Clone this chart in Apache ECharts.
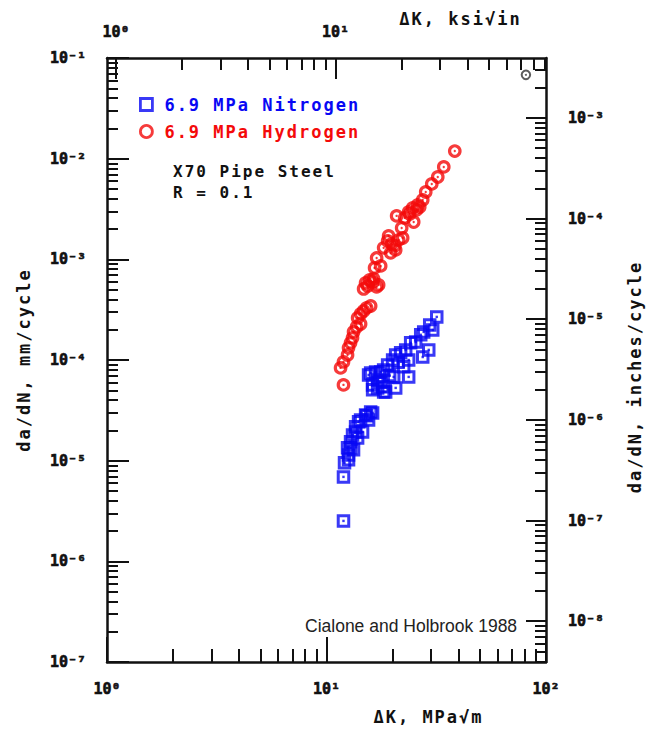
<!DOCTYPE html>
<html>
<head>
<meta charset="utf-8">
<script src="https://cdn.jsdelivr.net/npm/echarts@6/dist/echarts.min.js"></script>
<style>
  html, body { margin: 0; padding: 0; background: #ffffff; }
  #chart { width: 654px; height: 732px; }
  /* plotter-style lettering: wide spacing for the monospaced captions */
  #chart text[style*="17px"], #chart text[style*="16px"] { letter-spacing: 2px; }
</style>
</head>
<body>
<div id="chart"></div>
<script>
// Fatigue crack growth of X70 pipe steel, R = 0.1
// ΔK in MPa√m, da/dN in mm/cycle

const nitrogenName = '6.9 MPa Nitrogen';
const hydrogenName = '6.9 MPa Hydrogen';

const nitrogenDK = [
  11.95, 11.95, 12.08, 12.60, 12.47, 12.87, 13.14, 13.57, 14.00, 15.07, 15.89, 15.55,
  14.60, 13.86, 13.28, 16.22, 14.30, 15.23, 13.57, 12.87, 12.60,
  15.89, 15.55, 17.10, 16.22, 17.10, 18.02, 18.21, 16.22, 20.66, 18.60, 17.65, 18.21,
  18.99, 20.01, 20.23, 20.66, 21.77, 22.47, 22.95, 23.68, 23.68, 24.18, 25.49, 27.44,
  29.23, 26.87, 27.72, 30.48, 29.53, 31.79, 16.74, 19.40, 21.20, 17.60
];
const nitrogenRate = [
  2.52e-6, 6.90e-6, 9.51e-6, 1.14e-5, 1.34e-5, 1.54e-5, 1.80e-5, 2.17e-5, 2.43e-5, 2.85e-5, 3.05e-5, 2.54e-5,
  1.93e-5, 1.68e-5, 1.28e-5, 2.98e-5, 2.54e-5, 2.79e-5, 1.93e-5, 1.34e-5, 1.02e-5,
  7.44e-5, 7.11e-5, 6.34e-5, 5.66e-5, 5.28e-5, 5.41e-5, 4.82e-5, 5.05e-5, 5.28e-5, 4.82e-5, 7.61e-5, 7.97e-5,
  8.94e-5, 1.00e-4, 6.79e-5, 1.12e-4, 1.18e-4, 8.55e-5, 1.26e-4, 1.00e-4, 6.79e-5, 1.48e-4, 1.51e-4, 1.07e-4,
  1.26e-4, 1.78e-4, 1.90e-4, 1.99e-4, 2.23e-4, 2.68e-4, 7.61e-5, 7.00e-5, 9.50e-5, 6.00e-5
];

const hydrogenDK = [
  11.95, 11.59, 11.95, 12.47, 12.60, 12.87, 13.14, 13.28, 13.71, 14.30, 13.86, 14.30,
  14.76, 15.23, 15.89, 14.76, 15.39, 16.22, 15.07, 16.39, 17.28, 15.72, 16.92,
  16.56, 17.65, 16.92, 18.21, 18.99, 19.81, 19.60, 20.66, 21.32, 22.23, 19.19, 20.44,
  20.87, 22.00, 22.71, 23.68, 24.96, 24.70, 23.93, 25.76, 26.59, 26.03, 27.44, 28.32,
  30.17, 32.13, 34.22, 38.41
];
const hydrogenRate = [
  5.66e-5, 8.35e-5, 9.58e-5, 1.12e-4, 1.32e-4, 1.48e-4, 1.66e-4, 1.90e-4, 2.13e-4, 2.28e-4, 2.62e-4, 2.87e-4,
  3.07e-4, 3.29e-4, 3.44e-4, 5.08e-4, 5.44e-4, 5.97e-4, 5.83e-4, 6.39e-4, 5.57e-4, 6.24e-4, 5.32e-4,
  8.22e-4, 8.60e-4, 1.03e-3, 1.30e-3, 1.52e-3, 1.42e-3, 1.16e-3, 1.24e-3, 1.56e-3, 1.63e-3, 1.71e-3, 1.36e-3,
  2.70e-3, 2.05e-3, 2.58e-3, 2.96e-3, 2.35e-3, 3.24e-3, 2.82e-3, 3.10e-3, 3.31e-3, 3.47e-3, 3.89e-3, 4.67e-3,
  5.61e-3, 6.58e-3, 8.28e-3, 1.19e-2
];

// lone dark circle in the upper right corner of the frame
const cornerDK = [81.0];
const cornerRate = [0.068];

// axis ranges and labelled decades
const mpaLabels = [1, 10, 100];
const ksiLabels = [1, 10];
const mmLabels = [1e-7, 1e-6, 1e-5, 1e-4, 1e-3, 1e-2, 1e-1];
const inchLabels = [1e-8, 1e-7, 1e-6, 1e-5, 1e-4, 1e-3];

const MPA_MIN = 1, MPA_MAX = 100;
const KSI_PER_MPA = 0.9101;            // 1 MPa√m = 0.9101 ksi√in
const MM_MIN = 1e-7, MM_MAX = 1e-1;
const INCH_PER_MM = 1 / 25.4;

const KSI_MIN = MPA_MIN * KSI_PER_MPA, KSI_MAX = MPA_MAX * KSI_PER_MPA;
const IN_MIN = MM_MIN * INCH_PER_MM, IN_MAX = MM_MAX * INCH_PER_MM;

const BLUE = '#0808f4';
const RED = '#f40a0a';
const INK = '#111111';
const MONO = '"DejaVu Sans Mono", monospace';

// 2..9 × 10^d tick positions inside [min, max]
function minorTicks(min, max) {
  const out = [];
  const lo = Math.floor(Math.log10(min)), hi = Math.ceil(Math.log10(max));
  for (let d = lo; d < hi; d++) {
    for (let k = 2; k <= 9; k++) {
      const v = Number((k * Math.pow(10, d)).toPrecision(6));
      if (v >= min && v <= max) out.push(v);
    }
  }
  return out;
}

// decade labels written as 10 with a superscript exponent
const SUPERSCRIPT = { '-': '⁻', '0': '⁰', '1': '¹', '2': '²', '3': '³', '4': '⁴', '5': '⁵', '6': '⁶', '7': '⁷', '8': '⁸', '9': '⁹' };
function powerLabel(value) {
  const e = String(Math.round(Math.log10(value)));
  return '10' + e.split('').map(c => SUPERSCRIPT[c]).join('');
}

function tickLabels(values, margin) {
  return {
    show: true, margin: margin, customValues: values,
    fontFamily: MONO, fontWeight: 'bold', fontSize: 15, color: INK,
    textBorderColor: INK, textBorderWidth: 0.6,
    formatter: powerLabel,
    showMinLabel: true, showMaxLabel: true
  };
}

const nameStyle = { fontFamily: MONO, fontWeight: 'bold', fontSize: 17, color: INK };
const tickLine = { color: INK, width: 2 };
const frameLine = { show: true, onZero: false, lineStyle: { color: INK, width: 2.5 } };

function logAxis(extra) {
  return Object.assign({
    type: 'log', logBase: 10,
    splitLine: { show: false },
    axisLine: { show: false, onZero: false },
    axisLabel: { show: false },
    nameMoveOverlap: false
  }, extra);
}

function pairs(xs, ys) { return xs.map((x, i) => [x, ys[i]]); }

const ringStyle = (c, w) => ({ color: 'transparent', borderColor: c, borderWidth: w });

const chart = echarts.init(document.getElementById('chart'), null, { renderer: 'svg' });

chart.setOption({
  animation: false,
  backgroundColor: '#ffffff',
  grid: { left: 107, right: 108, top: 58, bottom: 70, outerBoundsMode: 'none' },
  title: [
    {
      text: 'X70 Pipe Steel\nR = 0.1',
      left: 168, top: 156,
      textStyle: { fontFamily: MONO, fontWeight: 'bold', fontSize: 16, lineHeight: 21, color: INK }
    },
    {
      text: 'Cialone and Holbrook 1988',
      left: 300, top: 612,
      textStyle: { fontFamily: '"Liberation Sans", Arial, sans-serif', fontWeight: 'normal', fontSize: 17.5, color: '#222222' }
    }
  ],
  legend: {
    orient: 'vertical', left: 134, top: 91,
    itemWidth: 26, itemHeight: 12, itemGap: 10,
    itemStyle: { borderWidth: 2.8 },
    textStyle: { fontFamily: MONO, fontWeight: 'bold', fontSize: 17 },
    data: [
      { name: nitrogenName, icon: 'path://M0,0H10V10H0Z', textStyle: { color: BLUE } },
      { name: hydrogenName, icon: 'circle', textStyle: { color: RED } }
    ]
  },
  xAxis: [
    logAxis({
      position: 'bottom', min: MPA_MIN, max: MPA_MAX,
      axisLine: frameLine,
      axisTick: { show: true, inside: true, length: 25, customValues: mpaLabels, lineStyle: tickLine },
      axisLabel: tickLabels(mpaLabels, 19),
      name: 'ΔK, MPa√m', nameLocation: 'middle', nameGap: 46,
      nameTextStyle: Object.assign({ padding: [0, 0, 0, 204] }, nameStyle)
    }),
    logAxis({
      position: 'bottom', min: MPA_MIN, max: MPA_MAX,
      axisTick: { show: true, inside: true, length: 13, customValues: minorTicks(MPA_MIN, MPA_MAX), lineStyle: tickLine }
    }),
    logAxis({
      position: 'top', min: KSI_MIN, max: KSI_MAX,
      axisLine: frameLine,
      axisTick: { show: true, inside: true, length: 21, customValues: ksiLabels, lineStyle: tickLine },
      axisLabel: tickLabels(ksiLabels, 19),
      name: 'ΔK, ksi√in', nameLocation: 'middle', nameGap: 31,
      nameTextStyle: Object.assign({ padding: [0, 0, 0, 268] }, nameStyle)
    }),
    logAxis({
      position: 'top', min: KSI_MIN, max: KSI_MAX,
      axisTick: { show: true, inside: true, length: 12, customValues: minorTicks(KSI_MIN, KSI_MAX), lineStyle: tickLine }
    })
  ],
  yAxis: [
    logAxis({
      position: 'left', min: MM_MIN, max: MM_MAX,
      axisLine: frameLine,
      axisTick: { show: true, inside: true, length: 22, customValues: mmLabels, lineStyle: tickLine },
      axisLabel: tickLabels(mmLabels, 21),
      name: 'da/dN, mm/cycle', nameLocation: 'middle', nameGap: 75,
      nameTextStyle: nameStyle
    }),
    logAxis({
      position: 'left', min: MM_MIN, max: MM_MAX,
      axisTick: { show: true, inside: true, length: 11, customValues: minorTicks(MM_MIN, MM_MAX), lineStyle: tickLine }
    }),
    logAxis({
      position: 'right', min: IN_MIN, max: IN_MAX,
      axisLine: frameLine,
      axisTick: { show: true, inside: true, length: 20, customValues: inchLabels, lineStyle: tickLine },
      axisLabel: tickLabels(inchLabels, 22),
      name: 'da/dN, inches/cycle', nameLocation: 'middle', nameGap: 80,
      nameTextStyle: Object.assign({ padding: [0, 34, 0, 0] }, nameStyle)
    }),
    logAxis({
      position: 'right', min: IN_MIN, max: IN_MAX,
      axisTick: { show: true, inside: true, length: 11, customValues: minorTicks(IN_MIN, IN_MAX), lineStyle: tickLine }
    })
  ],
  series: [
    {
      name: nitrogenName, type: 'scatter', xAxisIndex: 0, yAxisIndex: 0,
      symbol: 'rect', symbolSize: 10.5,
      itemStyle: ringStyle(BLUE, 3),
      data: pairs(nitrogenDK, nitrogenRate)
    },
    {
      name: nitrogenName, type: 'scatter', xAxisIndex: 0, yAxisIndex: 0,
      symbol: 'rect', symbolSize: 2.4, silent: true,
      itemStyle: { color: BLUE },
      data: pairs(nitrogenDK, nitrogenRate)
    },
    {
      name: hydrogenName, type: 'scatter', xAxisIndex: 0, yAxisIndex: 0,
      symbol: 'circle', symbolSize: 10.5,
      itemStyle: ringStyle(RED, 3.2),
      data: pairs(hydrogenDK, hydrogenRate)
    },
    {
      name: hydrogenName, type: 'scatter', xAxisIndex: 0, yAxisIndex: 0,
      symbol: 'circle', symbolSize: 2.4, silent: true,
      itemStyle: { color: RED },
      data: pairs(hydrogenDK, hydrogenRate)
    },
    {
      name: 'corner', type: 'scatter', xAxisIndex: 0, yAxisIndex: 0,
      symbol: 'circle', symbolSize: 8.5, silent: true,
      itemStyle: ringStyle('#333333', 2),
      data: pairs(cornerDK, cornerRate)
    },
    {
      name: 'corner', type: 'scatter', xAxisIndex: 0, yAxisIndex: 0,
      symbol: 'circle', symbolSize: 2, silent: true,
      itemStyle: { color: '#333333' },
      data: pairs(cornerDK, cornerRate)
    }
  ]
});
</script>
</body>
</html>
